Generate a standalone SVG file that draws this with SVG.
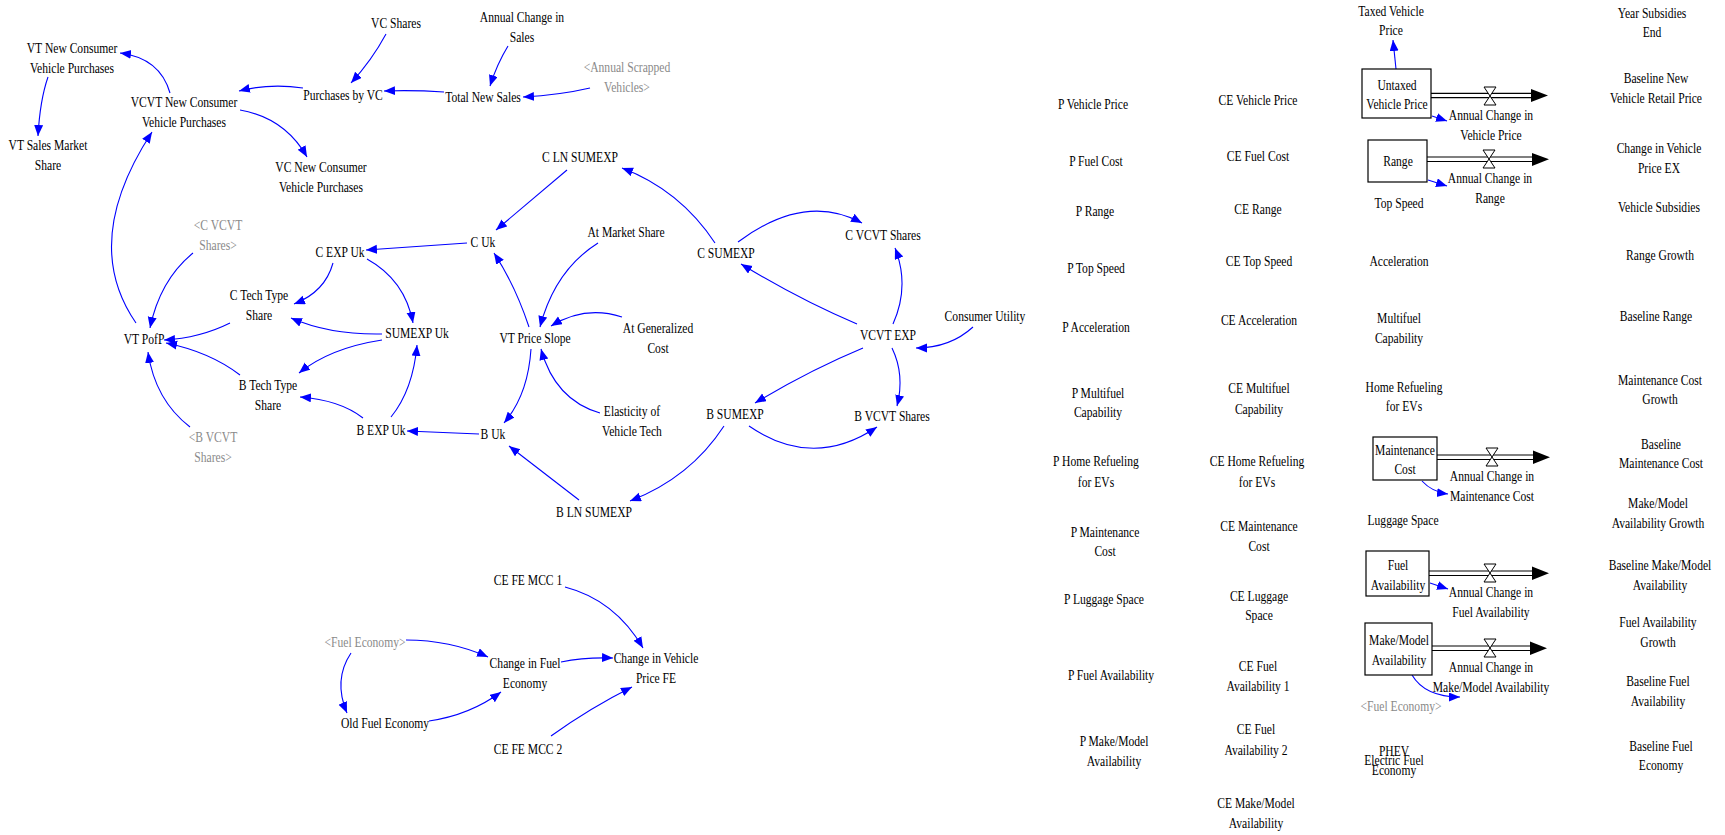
<svg xmlns="http://www.w3.org/2000/svg" width="1725" height="835" viewBox="0 0 1725 835">
<style>
.t{font-family:"Liberation Serif","Times New Roman",serif;font-size:15px;text-anchor:middle;fill:#000;transform:scaleX(0.773)}
.g{fill:#8a8a8a}
.c{fill:none;stroke:#0000ff;stroke-width:1.1;marker-end:url(#ah)}
.stock{fill:#fff;stroke:#000;stroke-width:1.2}
.pipe{stroke:#000;stroke-width:1.2;fill:none}
.head{fill:#000}
.valve{fill:#fff;stroke:#000;stroke-width:1}
</style>
<defs>
<marker id="ah" markerWidth="12" markerHeight="10" refX="11" refY="4.5" orient="auto" markerUnits="userSpaceOnUse"><path d="M0,0 L11,4.5 L0,9 z" fill="#0000ff"/></marker>
</defs>
<rect width="1725" height="835" fill="#fff"/>

<g id="connectors">
<path class="c" d="M170,93 Q160,58 120,53"/>
<path class="c" d="M48,77 Q40,100 38,136"/>
<path class="c" d="M303,88 Q270,83 239,91"/>
<path class="c" d="M386,34 Q372,60 351,83"/>
<path class="c" d="M508,46 Q497,64 490,86"/>
<path class="c" d="M444,92 Q414,90 384,91"/>
<path class="c" d="M590,88 Q560,95 523,97"/>
<path class="c" d="M240,110 Q285,118 307,157"/>
<path class="c" d="M567,170 L496,230"/>
<path class="c" d="M715,243 Q680,190 622,168"/>
<path class="c" d="M467,243 L366,250"/>
<path class="c" d="M598,243 Q555,270 540,327"/>
<path class="c" d="M136,323 Q80,242 152,132"/>
<path class="c" d="M193,253 Q160,280 150,328"/>
<path class="c" d="M333,263 Q325,292 294,304"/>
<path class="c" d="M367,259 Q405,280 413,323"/>
<path class="c" d="M230,323 Q200,338 164,340"/>
<path class="c" d="M382,334 Q330,335 291,318"/>
<path class="c" d="M382,340 Q330,348 299,373"/>
<path class="c" d="M240,375 Q210,352 166,343"/>
<path class="c" d="M190,427 Q155,400 148,352"/>
<path class="c" d="M363,418 Q340,400 300,397"/>
<path class="c" d="M391,417 Q413,390 417,345"/>
<path class="c" d="M479,434 L407,431"/>
<path class="c" d="M529,327 Q515,285 494,253"/>
<path class="c" d="M531,349 Q528,395 504,423"/>
<path class="c" d="M622,317 Q585,305 551,326"/>
<path class="c" d="M600,413 Q555,400 541,349"/>
<path class="c" d="M579,500 L509,446"/>
<path class="c" d="M724,426 Q690,478 630,501"/>
<path class="c" d="M738,242 Q805,192 862,223"/>
<path class="c" d="M857,324 Q800,300 741,264"/>
<path class="c" d="M893,324 Q910,286 895,248"/>
<path class="c" d="M973,327 Q950,348 916,348"/>
<path class="c" d="M863,348 Q810,370 755,403"/>
<path class="c" d="M892,348 Q905,375 897,406"/>
<path class="c" d="M749,426 Q813,470 877,427"/>
<path class="c" d="M565,587 Q615,600 643,648"/>
<path class="c" d="M406,640 Q450,640 488,657"/>
<path class="c" d="M561,662 Q585,657 613,658"/>
<path class="c" d="M351,653 Q333,680 347,713"/>
<path class="c" d="M429,721 Q470,715 501,692"/>
<path class="c" d="M551,736 Q590,708 632,687"/>
<path class="c" d="M1396,69 L1393,40"/>
<path class="c" d="M1432,116 L1447,121"/>
<path class="c" d="M1428,180 L1447,186"/>
<path class="c" d="M1422,481 Q1432,492 1448,494"/>
<path class="c" d="M1430,583 L1448,589"/>
<path class="c" d="M1412,675 Q1425,697 1460,697"/>
<path class="pipe" d="M1431,93.3 H1531 M1431,97.7 H1531"/><polygon class="head" points="1531,89 1548,95.5 1531,102"/>
<path class="valve" d="M1484,87 H1496 L1484,105 H1496 Z"/>
<path class="pipe" d="M1427,157 H1532 M1427,161.5 H1532"/><polygon class="head" points="1532,153 1549,159.3 1532,166"/>
<path class="valve" d="M1483,150 H1495 L1483,168 H1495 Z"/>
<path class="pipe" d="M1437,455 H1533 M1437,459.5 H1533"/><polygon class="head" points="1533,450.5 1550,457.3 1533,464"/>
<path class="valve" d="M1486,448 H1498 L1486,466 H1498 Z"/>
<path class="pipe" d="M1429,571 H1532 M1429,575.5 H1532"/><polygon class="head" points="1532,566.5 1549,573.3 1532,580"/>
<path class="valve" d="M1484,564 H1496 L1484,582 H1496 Z"/>
<path class="pipe" d="M1432,646 H1530 M1432,650.5 H1530"/><polygon class="head" points="1530,641.5 1547,648.3 1530,655"/>
<path class="valve" d="M1484,639 H1496 L1484,657 H1496 Z"/>
</g>

<g id="n_vtnew" transform="translate(72 0)"><text class="t"><tspan x="0" y="53">VT New Consumer</tspan><tspan x="0" y="73">Vehicle Purchases</tspan></text></g>
<g id="n_vtsales" transform="translate(48 0)"><text class="t"><tspan x="0" y="150">VT Sales Market</tspan><tspan x="0" y="170">Share</tspan></text></g>
<g id="n_vcvtnew" transform="translate(184 0)"><text class="t"><tspan x="0" y="107">VCVT New Consumer</tspan><tspan x="0" y="127">Vehicle Purchases</tspan></text></g>
<g id="n_purch" transform="translate(343 0)"><text class="t"><tspan x="0" y="100">Purchases by VC</tspan></text></g>
<g id="n_vcshares" transform="translate(396 0)"><text class="t"><tspan x="0" y="28">VC Shares</tspan></text></g>
<g id="n_annsales" transform="translate(522 0)"><text class="t"><tspan x="0" y="22">Annual Change in</tspan><tspan x="0" y="42">Sales</tspan></text></g>
<g id="n_total" transform="translate(483 0)"><text class="t"><tspan x="0" y="102">Total New Sales</tspan></text></g>
<g id="n_scrap" transform="translate(627 0)"><text class="t g"><tspan x="0" y="72">&lt;Annual Scrapped</tspan><tspan x="0" y="92">Vehicles&gt;</tspan></text></g>
<g id="n_vcnew" transform="translate(321 0)"><text class="t"><tspan x="0" y="172">VC New Consumer</tspan><tspan x="0" y="192">Vehicle Purchases</tspan></text></g>
<g id="n_clnsum" transform="translate(580 0)"><text class="t"><tspan x="0" y="162">C LN SUMEXP</tspan></text></g>
<g id="n_cuk" transform="translate(483 0)"><text class="t"><tspan x="0" y="247">C Uk</tspan></text></g>
<g id="n_cexpuk" transform="translate(340 0)"><text class="t"><tspan x="0" y="257">C EXP Uk</tspan></text></g>
<g id="n_atmkt" transform="translate(626 0)"><text class="t"><tspan x="0" y="237">At Market Share</tspan></text></g>
<g id="n_cvcvtsh" transform="translate(218 0)"><text class="t g"><tspan x="0" y="230">&lt;C VCVT</tspan><tspan x="0" y="250">Shares&gt;</tspan></text></g>
<g id="n_vtpofp" transform="translate(144 0)"><text class="t"><tspan x="0" y="344">VT PofP</tspan></text></g>
<g id="n_ctech" transform="translate(259 0)"><text class="t"><tspan x="0" y="300">C Tech Type</tspan><tspan x="0" y="320">Share</tspan></text></g>
<g id="n_sumexp" transform="translate(417 0)"><text class="t"><tspan x="0" y="338">SUMEXP Uk</tspan></text></g>
<g id="n_btech" transform="translate(268 0)"><text class="t"><tspan x="0" y="390">B Tech Type</tspan><tspan x="0" y="410">Share</tspan></text></g>
<g id="n_bexpuk" transform="translate(381 0)"><text class="t"><tspan x="0" y="435">B EXP Uk</tspan></text></g>
<g id="n_buk" transform="translate(493 0)"><text class="t"><tspan x="0" y="439">B Uk</tspan></text></g>
<g id="n_vtps" transform="translate(535 0)"><text class="t"><tspan x="0" y="343">VT Price Slope</tspan></text></g>
<g id="n_atgen" transform="translate(658 0)"><text class="t"><tspan x="0" y="333">At Generalized</tspan><tspan x="0" y="353">Cost</tspan></text></g>
<g id="n_elast" transform="translate(632 0)"><text class="t"><tspan x="0" y="416">Elasticity of</tspan><tspan x="0" y="436">Vehicle Tech</tspan></text></g>
<g id="n_bvcvtsh" transform="translate(213 0)"><text class="t g"><tspan x="0" y="442">&lt;B VCVT</tspan><tspan x="0" y="462">Shares&gt;</tspan></text></g>
<g id="n_blnsum" transform="translate(594 0)"><text class="t"><tspan x="0" y="517">B LN SUMEXP</tspan></text></g>
<g id="n_csumexp" transform="translate(726 0)"><text class="t"><tspan x="0" y="258">C SUMEXP</tspan></text></g>
<g id="n_cvcvt" transform="translate(883 0)"><text class="t"><tspan x="0" y="240">C VCVT Shares</tspan></text></g>
<g id="n_vcvtexp" transform="translate(888 0)"><text class="t"><tspan x="0" y="340">VCVT EXP</tspan></text></g>
<g id="n_cu" transform="translate(985 0)"><text class="t"><tspan x="0" y="321">Consumer Utility</tspan></text></g>
<g id="n_bsumexp" transform="translate(735 0)"><text class="t"><tspan x="0" y="419">B SUMEXP</tspan></text></g>
<g id="n_bvcvt" transform="translate(892 0)"><text class="t"><tspan x="0" y="421">B VCVT Shares</tspan></text></g>

<g id="n_cefe1" transform="translate(528 0)"><text class="t"><tspan x="0" y="585">CE FE MCC 1</tspan></text></g>
<g id="n_fe" transform="translate(365 0)"><text class="t g"><tspan x="0" y="647">&lt;Fuel Economy&gt;</tspan></text></g>
<g id="n_chfe" transform="translate(525 0)"><text class="t"><tspan x="0" y="668">Change in Fuel</tspan><tspan x="0" y="688">Economy</tspan></text></g>
<g id="n_chvp" transform="translate(656 0)"><text class="t"><tspan x="0" y="663">Change in Vehicle</tspan><tspan x="0" y="683">Price FE</tspan></text></g>
<g id="n_oldfe" transform="translate(385 0)"><text class="t"><tspan x="0" y="728">Old Fuel Economy</tspan></text></g>
<g id="n_cefe2" transform="translate(528 0)"><text class="t"><tspan x="0" y="754">CE FE MCC 2</tspan></text></g>

<g id="n_pvp" transform="translate(1093 0)"><text class="t"><tspan x="0" y="109">P Vehicle Price</tspan></text></g>
<g id="n_pfc" transform="translate(1096 0)"><text class="t"><tspan x="0" y="166">P Fuel Cost</tspan></text></g>
<g id="n_pr" transform="translate(1095 0)"><text class="t"><tspan x="0" y="216">P Range</tspan></text></g>
<g id="n_pts" transform="translate(1096 0)"><text class="t"><tspan x="0" y="273">P Top Speed</tspan></text></g>
<g id="n_pacc" transform="translate(1096 0)"><text class="t"><tspan x="0" y="332">P Acceleration</tspan></text></g>
<g id="n_pmf" transform="translate(1098 0)"><text class="t"><tspan x="0" y="398">P Multifuel</tspan><tspan x="0" y="417">Capability</tspan></text></g>
<g id="n_phr" transform="translate(1096 0)"><text class="t"><tspan x="0" y="466">P Home Refueling</tspan><tspan x="0" y="487">for EVs</tspan></text></g>
<g id="n_pmc" transform="translate(1105 0)"><text class="t"><tspan x="0" y="537">P Maintenance</tspan><tspan x="0" y="556">Cost</tspan></text></g>
<g id="n_pls" transform="translate(1104 0)"><text class="t"><tspan x="0" y="604">P Luggage Space</tspan></text></g>
<g id="n_pfa" transform="translate(1111 0)"><text class="t"><tspan x="0" y="680">P Fuel Availability</tspan></text></g>
<g id="n_pmm" transform="translate(1114 0)"><text class="t"><tspan x="0" y="746">P Make/Model</tspan><tspan x="0" y="766">Availability</tspan></text></g>

<g id="n_cevp" transform="translate(1258 0)"><text class="t"><tspan x="0" y="105">CE Vehicle Price</tspan></text></g>
<g id="n_cefc" transform="translate(1258 0)"><text class="t"><tspan x="0" y="161">CE Fuel Cost</tspan></text></g>
<g id="n_cer" transform="translate(1258 0)"><text class="t"><tspan x="0" y="214">CE Range</tspan></text></g>
<g id="n_cets" transform="translate(1259 0)"><text class="t"><tspan x="0" y="266">CE Top Speed</tspan></text></g>
<g id="n_ceacc" transform="translate(1259 0)"><text class="t"><tspan x="0" y="325">CE Acceleration</tspan></text></g>
<g id="n_cemf" transform="translate(1259 0)"><text class="t"><tspan x="0" y="393">CE Multifuel</tspan><tspan x="0" y="414">Capability</tspan></text></g>
<g id="n_cehr" transform="translate(1257 0)"><text class="t"><tspan x="0" y="466">CE Home Refueling</tspan><tspan x="0" y="487">for EVs</tspan></text></g>
<g id="n_cemc" transform="translate(1259 0)"><text class="t"><tspan x="0" y="531">CE Maintenance</tspan><tspan x="0" y="551">Cost</tspan></text></g>
<g id="n_cels" transform="translate(1259 0)"><text class="t"><tspan x="0" y="601">CE Luggage</tspan><tspan x="0" y="620">Space</tspan></text></g>
<g id="n_cefa1" transform="translate(1258 0)"><text class="t"><tspan x="0" y="671">CE Fuel</tspan><tspan x="0" y="691">Availability 1</tspan></text></g>
<g id="n_cefa2" transform="translate(1256 0)"><text class="t"><tspan x="0" y="734">CE Fuel</tspan><tspan x="0" y="755">Availability 2</tspan></text></g>
<g id="n_cemm" transform="translate(1256 0)"><text class="t"><tspan x="0" y="808">CE Make/Model</tspan><tspan x="0" y="828">Availability</tspan></text></g>

<g id="n_taxed" transform="translate(1391 0)"><text class="t"><tspan x="0" y="16">Taxed Vehicle</tspan><tspan x="0" y="35">Price</tspan></text></g>
<g id="n_untaxed"><rect class="stock" x="1362" y="69" width="69" height="49"/><g transform="translate(1397 0)"><text class="t"><tspan x="0" y="90">Untaxed</tspan><tspan x="0" y="109">Vehicle Price</tspan></text></g></g>
<g id="n_acvp" transform="translate(1491 0)"><text class="t"><tspan x="0" y="120">Annual Change in</tspan><tspan x="0" y="140">Vehicle Price</tspan></text></g>
<g id="n_range"><rect class="stock" x="1368" y="140" width="59" height="42"/><g transform="translate(1398 0)"><text class="t"><tspan x="0" y="166">Range</tspan></text></g></g>
<g id="n_acr" transform="translate(1490 0)"><text class="t"><tspan x="0" y="183">Annual Change in</tspan><tspan x="0" y="203">Range</tspan></text></g>
<g id="n_ts" transform="translate(1399 0)"><text class="t"><tspan x="0" y="208">Top Speed</tspan></text></g>
<g id="n_acc" transform="translate(1399 0)"><text class="t"><tspan x="0" y="266">Acceleration</tspan></text></g>
<g id="n_mf" transform="translate(1399 0)"><text class="t"><tspan x="0" y="323">Multifuel</tspan><tspan x="0" y="343">Capability</tspan></text></g>
<g id="n_hr" transform="translate(1404 0)"><text class="t"><tspan x="0" y="392">Home Refueling</tspan><tspan x="0" y="411">for EVs</tspan></text></g>
<g id="n_mc"><rect class="stock" x="1373" y="437" width="64" height="43"/><g transform="translate(1405 0)"><text class="t"><tspan x="0" y="455">Maintenance</tspan><tspan x="0" y="474">Cost</tspan></text></g></g>
<g id="n_acmc" transform="translate(1492 0)"><text class="t"><tspan x="0" y="481">Annual Change in</tspan><tspan x="0" y="501">Maintenance Cost</tspan></text></g>
<g id="n_ls" transform="translate(1403 0)"><text class="t"><tspan x="0" y="525">Luggage Space</tspan></text></g>
<g id="n_fa"><rect class="stock" x="1366" y="551" width="63" height="45"/><g transform="translate(1398 0)"><text class="t"><tspan x="0" y="570">Fuel</tspan><tspan x="0" y="590">Availability</tspan></text></g></g>
<g id="n_acfa" transform="translate(1491 0)"><text class="t"><tspan x="0" y="597">Annual Change in</tspan><tspan x="0" y="617">Fuel Availability</tspan></text></g>
<g id="n_mm"><rect class="stock" x="1365" y="623" width="67" height="52"/><g transform="translate(1399 0)"><text class="t"><tspan x="0" y="645">Make/Model</tspan><tspan x="0" y="665">Availability</tspan></text></g></g>
<g id="n_acmm" transform="translate(1491 0)"><text class="t"><tspan x="0" y="672">Annual Change in</tspan><tspan x="0" y="692">Make/Model Availability</tspan></text></g>
<g id="n_fe2" transform="translate(1401 0)"><text class="t g"><tspan x="0" y="711">&lt;Fuel Economy&gt;</tspan></text></g>
<g id="n_phev" transform="translate(1394 0)"><text class="t"><tspan x="0" y="756">PHEV</tspan><tspan x="0" y="765">Electric Fuel</tspan><tspan x="0" y="775">Economy</tspan></text></g>

<g id="n_ysend" transform="translate(1652 0)"><text class="t"><tspan x="0" y="18">Year Subsidies</tspan><tspan x="0" y="37">End</tspan></text></g>
<g id="n_bnvrp" transform="translate(1656 0)"><text class="t"><tspan x="0" y="83">Baseline New</tspan><tspan x="0" y="103">Vehicle Retail Price</tspan></text></g>
<g id="n_cvpex" transform="translate(1659 0)"><text class="t"><tspan x="0" y="153">Change in Vehicle</tspan><tspan x="0" y="173">Price EX</tspan></text></g>
<g id="n_vs" transform="translate(1659 0)"><text class="t"><tspan x="0" y="212">Vehicle Subsidies</tspan></text></g>
<g id="n_rg" transform="translate(1660 0)"><text class="t"><tspan x="0" y="260">Range Growth</tspan></text></g>
<g id="n_br" transform="translate(1656 0)"><text class="t"><tspan x="0" y="321">Baseline Range</tspan></text></g>
<g id="n_mcg" transform="translate(1660 0)"><text class="t"><tspan x="0" y="385">Maintenance Cost</tspan><tspan x="0" y="404">Growth</tspan></text></g>
<g id="n_bmc" transform="translate(1661 0)"><text class="t"><tspan x="0" y="449">Baseline</tspan><tspan x="0" y="468">Maintenance Cost</tspan></text></g>
<g id="n_mmag" transform="translate(1658 0)"><text class="t"><tspan x="0" y="508">Make/Model</tspan><tspan x="0" y="528">Availability Growth</tspan></text></g>
<g id="n_bmma" transform="translate(1660 0)"><text class="t"><tspan x="0" y="570">Baseline Make/Model</tspan><tspan x="0" y="590">Availability</tspan></text></g>
<g id="n_fag" transform="translate(1658 0)"><text class="t"><tspan x="0" y="627">Fuel Availability</tspan><tspan x="0" y="647">Growth</tspan></text></g>
<g id="n_bfa" transform="translate(1658 0)"><text class="t"><tspan x="0" y="686">Baseline Fuel</tspan><tspan x="0" y="706">Availability</tspan></text></g>
<g id="n_bfe" transform="translate(1661 0)"><text class="t"><tspan x="0" y="751">Baseline Fuel</tspan><tspan x="0" y="770">Economy</tspan></text></g>
</svg>
